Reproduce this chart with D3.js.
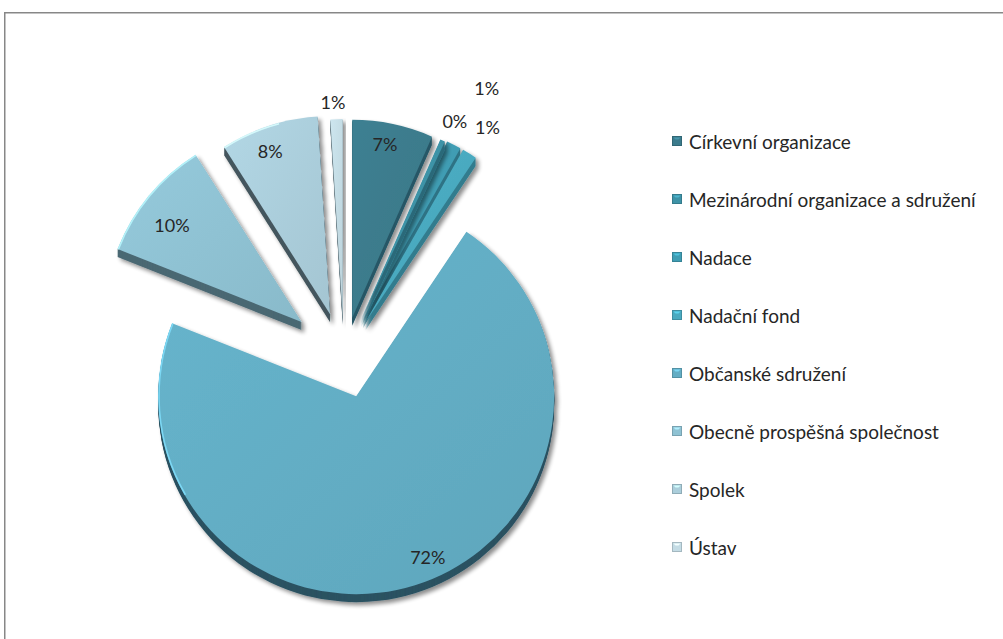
<!DOCTYPE html>
<html>
<head>
<meta charset="utf-8">
<script src="https://cdn.jsdelivr.net/npm/d3@7"></script>
<style>
  html, body { margin: 0; padding: 0; background: #ffffff; }
  svg { display: block; }
</style>
</head>
<body>
<svg id="chart" width="1003" height="639"></svg>
<script>
// ---- data ----
const categories = [
  "Církevní organizace",
  "Mezinárodní organizace a sdružení",
  "Nadace",
  "Nadační fond",
  "Občanské sdružení",
  "Obecně prospěšná společnost",
  "Spolek",
  "Ústav"
];
const shares = [6.6, 0.4, 1.2, 1.2, 71.6, 10.0, 8.0, 1.0];

// ---- styling ----
const topColors  = ["#3b7b8c", "#3e93a7", "#3f9db3", "#4aaac0", "#63adc4", "#8fc2d3", "#abcedb", "#c4dce5"];
const sideColors = ["#285867", "#2c6a7a", "#2e7385", "#337c8e", "#2b5262", "#4b6873", "#45575f", "#6d8088"];

// ---- layout ----
const center = { x: 344, y: 357 };
const radius = 198;
const depth = 8;
const pull = [40, 40, 41, 41, 41, 55, 45, 40];              // explosion distance per slice
const labelPlacement = [                                     // [radius factor, angle nudge in degrees]
  [0.894, -1.2], [1.115, 0.8], [1.33, 0.7], [1.16, 0.4],
  [0.89, -6.7], [0.818, -2.8], [0.877, -2.2], [1.087, -0.8]
];
const fontFamily = "Lato, 'Open Sans', sans-serif";
const textColor = "#262626";

const svg = d3.select("#chart");
const defs = svg.append("defs");

// soft drop shadow under each slice
const shadow = defs.append("filter").attr("id", "sliceShadow")
  .attr("x", "-20%").attr("y", "-20%").attr("width", "140%").attr("height", "140%");
shadow.append("feGaussianBlur").attr("in", "SourceAlpha").attr("stdDeviation", 2.2).attr("result", "blur");
shadow.append("feOffset").attr("in", "blur").attr("dx", 3).attr("dy", 3).attr("result", "off");
shadow.append("feComponentTransfer").attr("in", "off").attr("result", "soft")
  .append("feFuncA").attr("type", "linear").attr("slope", 0.45);
const merge = shadow.append("feMerge");
merge.append("feMergeNode").attr("in", "soft");
merge.append("feMergeNode").attr("in", "SourceGraphic");

// gentle shading on the top faces
topColors.forEach((c, i) => {
  const g = defs.append("linearGradient").attr("id", "face" + i)
    .attr("x1", "0%").attr("y1", "0%").attr("x2", "100%").attr("y2", "100%");
  g.append("stop").attr("offset", "0%").attr("stop-color", d3.color(c).brighter(0.12));
  g.append("stop").attr("offset", "100%").attr("stop-color", d3.color(c).darker(0.12));
});

// frame
svg.append("rect")
  .attr("x", 4.75).attr("y", 12.75)
  .attr("width", 1100).attr("height", 700)
  .attr("fill", "none").attr("stroke", "#878787").attr("stroke-width", 1.5);

const total = d3.sum(shares);
const pct = d3.format(".0%");
const pie = d3.pie().sort(null).value(d => d);
const arcs = pie(shares);
const arcGen = d3.arc().innerRadius(0).outerRadius(radius);

const slices = arcs.map((a, i) => {
  const mid = (a.startAngle + a.endAngle) / 2;
  return {
    arc: a, i,
    ox: center.x + pull[i] * Math.sin(mid),
    oy: center.y - pull[i] * Math.cos(mid),
    mid
  };
});

// draw far slices first, the large front slice last
const drawOrder = slices.slice().sort((p, q) => p.oy - q.oy);

// the light rim only catches the upper-left part of the outer edge
const rimFrom = 240 * Math.PI / 180, rimTo = 345 * Math.PI / 180;

const pieLayer = svg.append("g");
drawOrder.forEach(s => {
  const g = pieLayer.append("g")
    .attr("transform", `translate(${s.ox},${s.oy})`)
    .attr("filter", "url(#sliceShadow)");
  const d = arcGen(s.arc);
  // extruded side
  for (let k = depth; k >= 1; k--) {
    g.append("path").attr("d", d).attr("transform", `translate(0,${k})`)
      .attr("fill", sideColors[s.i]);
  }
  // top face
  g.append("path").attr("d", d).attr("fill", `url(#face${s.i})`);
  // rim highlight
  const a0 = Math.max(s.arc.startAngle, rimFrom), a1 = Math.min(s.arc.endAngle, rimTo);
  if (a1 > a0) {
    const rim = d3.path();
    rim.arc(0, 0, radius - 0.8, a0 - Math.PI / 2, a1 - Math.PI / 2);
    g.append("path").attr("d", rim.toString())
      .attr("fill", "none")
      .attr("stroke", d3.color(topColors[s.i]).brighter(0.7))
      .attr("stroke-width", 1.6).attr("opacity", 0.85);
  }
});

// value labels
const labelLayer = svg.append("g")
  .attr("font-family", fontFamily).attr("font-size", 18).attr("fill", textColor);
slices.forEach(s => {
  const [f, nudge] = labelPlacement[s.i];
  const ang = s.mid + nudge * Math.PI / 180;
  labelLayer.append("text")
    .attr("x", s.ox + f * radius * Math.sin(ang))
    .attr("y", s.oy - f * radius * Math.cos(ang))
    .attr("text-anchor", "middle")
    .attr("dominant-baseline", "central")
    .text(pct(shares[s.i] / total));
});

// legend
const legendY = d3.scalePoint().domain(categories).range([141, 547]);
const legend = svg.append("g").attr("font-family", fontFamily).attr("font-size", 19).attr("fill", textColor);
categories.forEach((name, i) => {
  const y = legendY(name);
  const item = legend.append("g").attr("transform", `translate(672,${y})`);
  item.append("rect")
    .attr("x", 0.5).attr("y", -4.5).attr("width", 9).attr("height", 9)
    .attr("fill", topColors[i])
    .attr("stroke", d3.color(topColors[i]).darker(0.5)).attr("stroke-width", 1);
  item.append("path")
    .attr("d", "M1.5,-3.5 L8.5,-3.5 L6.5,-1.5 L3.5,-1.5 Z")
    .attr("fill", d3.color(topColors[i]).brighter(0.6));
  item.append("text")
    .attr("x", 17).attr("y", 0.5)
    .attr("dominant-baseline", "central")
    .text(name);
});
</script>
</body>
</html>
